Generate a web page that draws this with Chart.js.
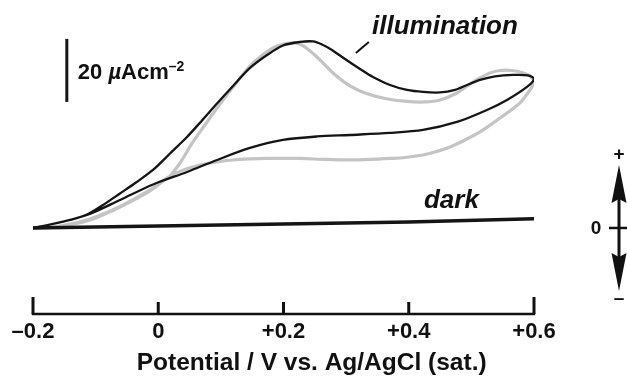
<!DOCTYPE html>
<html>
<head>
<meta charset="utf-8">
<script src="https://cdn.jsdelivr.net/npm/chart.js@4/dist/chart.umd.min.js"></script>
<style>
  html, body { margin: 0; padding: 0; background: #ffffff; }
  #wrap { width: 627px; height: 381px; position: relative; }
</style>
</head>
<body>
<div id="wrap"><canvas id="c" width="627" height="381"></canvas></div>
<script>
// ---- Data (potential in V vs. Ag/AgCl, current density in µA cm^-2) ----
const xTicks = [-0.2, 0, 0.2, 0.4, 0.6];
const xTickLabels = ['\u20130.2', '0', '+0.2', '+0.4', '+0.6'];
const xTitle = 'Potential / V vs. Ag/AgCl (sat.)';

// Illumination, black trace (closed loop: upper branch then return branch)
const illumBlackV = [-0.200, -0.1681, -0.1409, -0.1138, -0.0882, -0.0611, -0.0355, -0.0084, 0.0188, 0.0459, 0.0699, 0.0938, 0.1194, 0.1465, 0.1737, 0.1992, 0.2263, 0.2471, 0.2615, 0.2774, 0.2982, 0.3222, 0.3429, 0.3701, 0.3972, 0.4228, 0.4499, 0.4738, 0.4930, 0.5138, 0.5377, 0.5665, 0.5904, 0.6000,
                     0.5888, 0.5569, 0.5249, 0.4770, 0.4228, 0.3701, 0.3062, 0.2535, 0.1992, 0.1465, 0.0938, 0.0459, -0.0084, -0.0611, -0.1138, -0.1681, -0.200];
const illumBlackI = [0.00, 1.27, 2.54, 4.28, 7.30, 10.95, 14.44, 18.41, 23.64, 28.88, 34.12, 39.51, 45.07, 50.78, 54.90, 57.92, 59.03, 59.19, 58.24, 56.49, 53.63, 50.46, 47.92, 45.38, 43.80, 43.16, 43.00, 43.80, 45.38, 46.97, 48.08, 48.56, 48.40, 47.29,
                     44.75, 40.62, 37.45, 33.64, 31.10, 30.15, 29.51, 29.04, 27.93, 25.39, 21.58, 17.77, 13.81, 8.89, 4.13, 1.27, 0.00];

// Illumination, grey trace
const illumGreyV = [-0.200, -0.1569, -0.1090, -0.0611, -0.0132, 0.0076, 0.0188, 0.0347, 0.0555, 0.0746, 0.0938, 0.1194, 0.1465, 0.1705, 0.1896, 0.2104, 0.2232, 0.2343, 0.2535, 0.2790, 0.3062, 0.3301, 0.3621, 0.3972, 0.4259, 0.4499, 0.4770, 0.4978, 0.5138, 0.5297, 0.5457, 0.5649, 0.5808, 0.5936, 0.6000,
                    0.5936, 0.5776, 0.5569, 0.5345, 0.5138, 0.4898, 0.4659, 0.4419, 0.4228, 0.3940, 0.3701, 0.3381, 0.3062, 0.2663, 0.2263, 0.1737, 0.1465, 0.1194, 0.0938, 0.0667, 0.0427, 0.0188, -0.0132, -0.0611, -0.1090, -0.1569, -0.200];
const illumGreyI = [0.00, 0.63, 2.86, 6.82, 12.06, 14.92, 16.50, 20.63, 27.29, 32.69, 38.08, 44.75, 51.41, 55.54, 57.76, 58.71, 58.55, 57.44, 54.27, 49.19, 45.07, 42.84, 41.10, 40.15, 39.99, 40.62, 42.84, 45.70, 47.60, 49.19, 49.98, 49.98, 49.35, 48.24, 46.33,
                    43.80, 39.67, 36.50, 33.32, 30.47, 27.93, 25.71, 24.12, 23.17, 22.37, 22.06, 21.74, 21.58, 21.74, 22.06, 22.06, 21.90, 21.58, 20.95, 19.99, 18.57, 16.50, 11.74, 6.66, 2.54, 0.50, 0.00];

// Dark trace
const darkV = [-0.2, 0.0, 0.2, 0.4, 0.6];
const darkI = [0.0, 0.6, 1.3, 1.9, 2.9];

// Scale bar (20 µA cm^-2)
const scaleBarV = [-0.146, -0.146];
const scaleBarI = [40, 60];

const toPts = (xs, ys) => xs.map((x, i) => ({ x: x, y: ys[i] }));

const FONT = '"Liberation Sans", Arial, Helvetica, sans-serif';

const decor = {
  id: 'decor',
  afterDraw(chart) {
    const ctx = chart.ctx;
    const xs = chart.scales.x, ys = chart.scales.y;
    const area = chart.chartArea;
    ctx.save();
    ctx.strokeStyle = '#111';
    ctx.fillStyle = '#111';
    ctx.lineCap = 'butt';

    // x axis line with upward ticks
    const yAxis = area.bottom;
    ctx.lineWidth = 2.5;
    ctx.beginPath();
    ctx.moveTo(xs.getPixelForValue(xTicks[0]) - 1.2, yAxis);
    ctx.lineTo(xs.getPixelForValue(xTicks[xTicks.length - 1]) + 1.2, yAxis);
    ctx.stroke();
    ctx.lineWidth = 3;
    xTicks.forEach((v, i) => {
      const px = xs.getPixelForValue(v);
      const len = (i === 0 || i === xTicks.length - 1) ? 17 : 12;
      ctx.beginPath();
      ctx.moveTo(px, yAxis);
      ctx.lineTo(px, yAxis - len);
      ctx.stroke();
    });
    ctx.font = 'bold 22px ' + FONT;
    ctx.textAlign = 'center';
    ctx.textBaseline = 'middle';
    xTicks.forEach((v, i) => {
      ctx.fillText(xTickLabels[i], xs.getPixelForValue(v), yAxis + 18);
    });
    ctx.font = 'bold 24.5px ' + FONT;
    ctx.fillText(xTitle, xs.getPixelForValue(0.245), yAxis + 49);

    // scale-bar label
    ctx.textAlign = 'left';
    ctx.textBaseline = 'alphabetic';
    let tx = xs.getPixelForValue(scaleBarV[0]) + 11;
    const tb = ys.getPixelForValue(50) + 8.5;
    ctx.font = 'bold 22px ' + FONT;
    ctx.fillText('20 ', tx, tb); tx += ctx.measureText('20 ').width;
    ctx.font = 'italic bold 22px ' + FONT;
    ctx.fillText('\u00b5', tx, tb); tx += ctx.measureText('\u00b5').width;
    ctx.font = 'bold 22px ' + FONT;
    ctx.fillText('Acm', tx, tb); tx += ctx.measureText('Acm').width;
    ctx.font = 'bold 14px ' + FONT;
    ctx.fillText('\u20132', tx, tb - 7.5);

    // curve labels
    ctx.font = 'italic bold 26px ' + FONT;
    ctx.fillText('illumination', xs.getPixelForValue(0.3413), ys.getPixelForValue(61.6));
    ctx.fillText('dark', xs.getPixelForValue(0.4243), ys.getPixelForValue(6.3));
    // leader line for "illumination"
    ctx.lineWidth = 2;
    ctx.beginPath();
    ctx.moveTo(xs.getPixelForValue(0.3155), ys.getPixelForValue(55.5));
    ctx.lineTo(xs.getPixelForValue(0.3363), ys.getPixelForValue(59.0));
    ctx.stroke();

    // current-direction indicator on the right
    const ax = 619;
    const y0 = ys.getPixelForValue(0);
    ctx.lineWidth = 3;
    ctx.beginPath();
    ctx.moveTo(ax, y0 - 30); ctx.lineTo(ax, y0 + 30);
    ctx.stroke();
    ctx.lineWidth = 2.5;
    ctx.beginPath();
    ctx.moveTo(ax - 10, y0); ctx.lineTo(ax + 9, y0);
    ctx.stroke();
    // arrow heads
    ctx.beginPath();
    ctx.moveTo(ax, y0 - 63);
    ctx.lineTo(ax + 7.5, y0 - 25);
    ctx.lineTo(ax, y0 - 29);
    ctx.lineTo(ax - 7.5, y0 - 25);
    ctx.closePath();
    ctx.fill();
    ctx.beginPath();
    ctx.moveTo(ax, y0 + 63);
    ctx.lineTo(ax + 7.5, y0 + 25);
    ctx.lineTo(ax, y0 + 29);
    ctx.lineTo(ax - 7.5, y0 + 25);
    ctx.closePath();
    ctx.fill();
    ctx.font = 'bold 19px ' + FONT;
    ctx.textAlign = 'center';
    ctx.textBaseline = 'middle';
    ctx.fillText('0', ax - 23, y0 + 1);
    ctx.fillText('+', ax, y0 - 73);
    ctx.fillText('\u2013', ax, y0 + 71);
    ctx.restore();
  }
};

new Chart(document.getElementById('c'), {
  type: 'line',
  data: {
    datasets: [
      { label: 'illumination', data: toPts(illumBlackV, illumBlackI), borderColor: '#151515', borderWidth: 2.3, tension: 0.3, pointRadius: 0, fill: false, order: 1 },
      { label: 'dark', data: toPts(darkV, darkI), borderColor: '#151515', borderWidth: 3.5, tension: 0, pointRadius: 0, fill: false, order: 2 },
      { label: 'scale bar', data: toPts(scaleBarV, scaleBarI), borderColor: '#151515', borderWidth: 3, tension: 0, pointRadius: 0, fill: false, order: 2 },
      { label: 'illumination (grey)', data: toPts(illumGreyV, illumGreyI), borderColor: '#c4c4c4', borderWidth: 3.2, tension: 0.3, pointRadius: 0, fill: false, order: 3 }
    ]
  },
  options: {
    responsive: false,
    devicePixelRatio: 1,
    animation: false,
    layout: { padding: { left: 33, right: 93, top: 20, bottom: 67 } },
    scales: {
      x: { type: 'linear', min: -0.2, max: 0.6, display: false },
      y: { type: 'linear', min: -27.3, max: 66, display: false }
    },
    plugins: { legend: { display: false }, tooltip: { enabled: false } }
  },
  plugins: [decor]
});
</script>
</body>
</html>
